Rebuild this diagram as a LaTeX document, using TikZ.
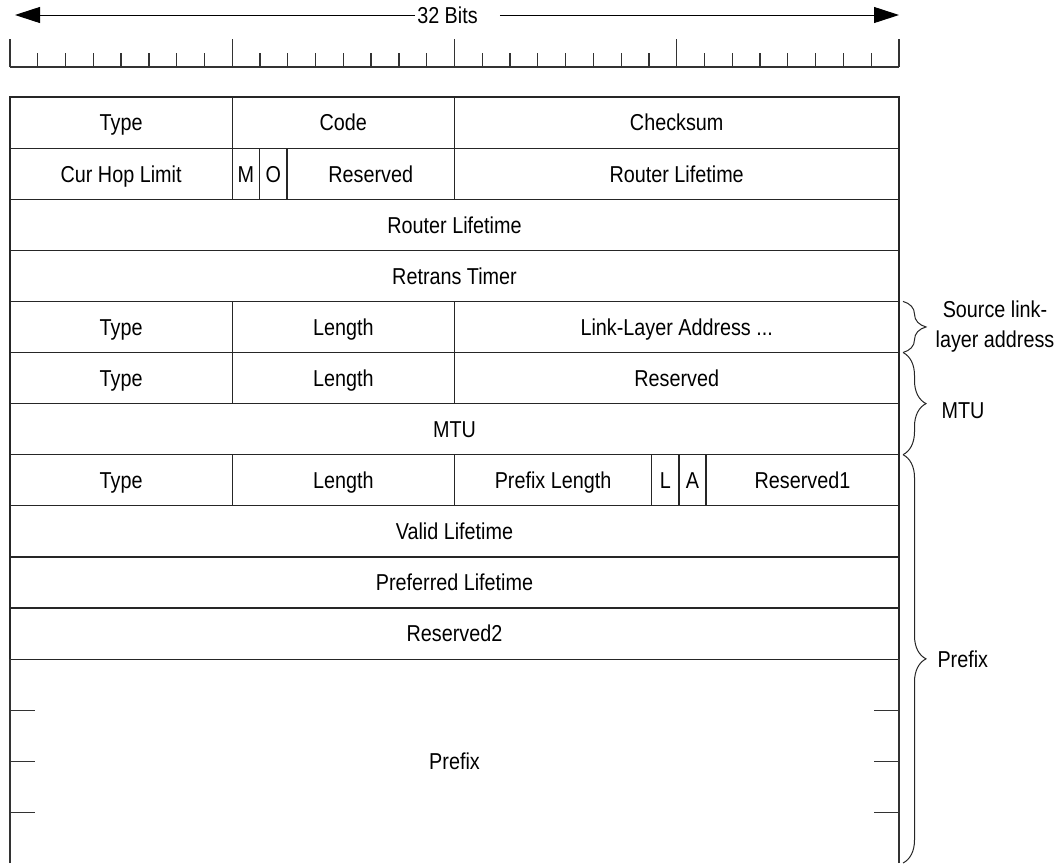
\documentclass[tikz,border=0pt]{standalone}
\usepackage{fontspec}
\setmainfont{Liberation Sans}[FakeStretch=0.86]
\usetikzlibrary{arrows.meta,decorations.pathreplacing}

\tikzset{
  field/.style={draw=black!85, line width=1.2pt, minimum height=51.1pt, inner sep=0pt,
                text height=16.8pt, text depth=0pt},
  wide/.style={field, minimum width=889pt},
  rule/.style={draw=black!80, line width=1.3pt},
  bracemark/.style={draw=black!85, line width=1pt, decorate, decoration={brace,amplitude=23pt}},
  bitarrow/.style={line width=1pt, -{Triangle[length=25pt,width=16pt]}}
}

\begin{document}
\begin{tikzpicture}
  [x=1pt,y=-1pt,every node/.style={font=\fontsize{23}{30}\selectfont}]
  \useasboundingbox (0,0) rectangle (1063,863);

  % width arrow
  \node[inner xsep=2pt] (bits) at (447.5,15) {32 Bits};
  \coordinate (al) at (15,15);
  \coordinate (ar) at (899,15);
  \draw[bitarrow] (bits.west) -- (al);
  \draw[bitarrow] ([xshift=20pt]bits.east) -- (ar);

  % bit ruler
  \draw[rule] (10,67) -- (899,67);
  \foreach \i in {1,...,31}
     \draw[rule] (10+\i*27.78,67) -- ++(0,-14);
  \foreach \i in {0,8,...,32}
     \draw[rule] (10+\i*27.78,67) -- ++(0,-28);

  % row 1
  \node[field, minimum width=222.2pt] (t1) at (121.1,122.55) {Type};
  \node[field, minimum width=222.2pt] (c1) at (343.3,122.55) {Code};
  \node[field, minimum width=444.6pt] (cs) at (676.7,122.55) {Checksum};

  % row 2
  \node[field, minimum width=222.2pt] (hop) at (121.1,173.65) {Cur Hop Limit};
  \node[field, minimum width=27.4pt] (m) at (245.9,173.65) {M};
  \node[field, minimum width=27.4pt] (o) at (273.3,173.65) {O};
  \node[field, minimum width=167.4pt] (r2) at (370.7,173.65) {Reserved};
  \node[field, minimum width=444.6pt] (rl1) at (676.7,173.65) {Router Lifetime};

  % rows 3 and 4
  \node[wide] (rl2) at (454.5,224.75) {Router Lifetime};
  \node[wide] (rt) at (454.5,275.85) {Retrans Timer};

  % source link-layer address option
  \node[field, minimum width=222.2pt] (t5) at (121.1,326.95) {Type};
  \node[field, minimum width=222.2pt] (l5) at (343.3,326.95) {Length};
  \node[field, minimum width=444.6pt] (lla) at (676.7,326.95) {Link-Layer Address ...};

  % MTU option
  \node[field, minimum width=222.2pt] (t6) at (121.1,378.05) {Type};
  \node[field, minimum width=222.2pt] (l6) at (343.3,378.05) {Length};
  \node[field, minimum width=444.6pt] (r6) at (676.7,378.05) {Reserved};
  \node[wide] (mtu) at (454.5,429.15) {MTU};

  % prefix option
  \node[field, minimum width=222.2pt] (t8) at (121.1,480.25) {Type};
  \node[field, minimum width=222.2pt] (l8) at (343.3,480.25) {Length};
  \node[field, minimum width=197.3pt] (pl) at (553.05,480.25) {Prefix Length};
  \node[field, minimum width=27.3pt] (lf) at (665.35,480.25) {L};
  \node[field, minimum width=27pt] (af) at (692.5,480.25) {A};
  \node[field, minimum width=193pt] (r8) at (802.5,480.25) {Reserved1};
  \node[wide] (vl) at (454.5,531.35) {Valid Lifetime};
  \node[wide] (pf) at (454.5,582.45) {Preferred Lifetime};
  \node[wide] (r11) at (454.5,633.55) {Reserved2};

  % prefix field, open at the bottom
  \draw[rule] (10,863) -- (10,659.1);
  \draw[rule] (899,863) -- (899,659.1);
  \foreach \y in {710.2,761.3,812.4} {
     \draw[rule] (10,\y) -- ++(25,0);
     \draw[rule] (899,\y) -- ++(-25,0);
  }
  \node[text height=16.8pt, text depth=0pt] (px) at (454.5,761.3) {Prefix};

  % braces
  \draw[bracemark] (903,301.4) -- (903,352.5);
  \draw[bracemark] (903,352.5) -- (903,454.7);
  \draw[bracemark] (903,454.7) -- (903,863);
  \node[align=center] (lsrc) at (995,327) {Source link-\\layer address};
  \node[anchor=west] (lmtu) at (938,411) {MTU};
  \node[anchor=west] (lpfx) at (934,659) {Prefix};
\end{tikzpicture}
\end{document}
